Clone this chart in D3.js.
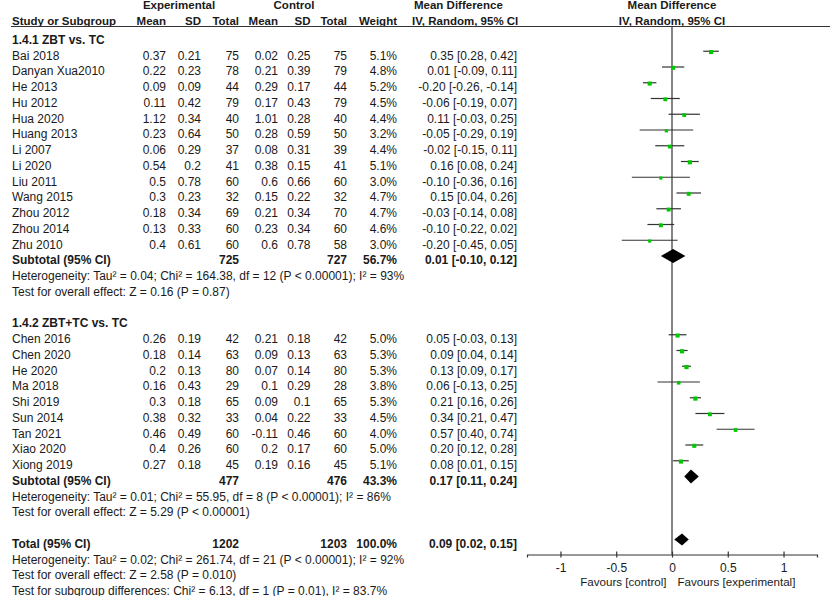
<!DOCTYPE html>
<html>
<head>
<meta charset="utf-8">
<script src="https://cdn.jsdelivr.net/npm/d3@7"></script>
<style>
  body { margin: 0; background: #fff; }
  svg text { font-family: "Liberation Sans", Arial, sans-serif; fill: #1a1a1a; }
</style>
</head>
<body>
<div id="chart"></div>
<script>
// 1.4.1 ZBT vs. TC
const studies1 = ['Bai 2018', 'Danyan Xua2010', 'He 2013', 'Hu 2012', 'Hua 2020', 'Huang 2013', 'Li 2007',
  'Li 2020', 'Liu 2011', 'Wang 2015', 'Zhou 2012', 'Zhou 2014', 'Zhu 2010'];
const expMean1 = [0.37, 0.22, 0.09, 0.11, 1.12, 0.23, 0.06, 0.54, 0.5, 0.3, 0.18, 0.13, 0.4];
const expSD1 = [0.21, 0.23, 0.09, 0.42, 0.34, 0.64, 0.29, 0.2, 0.78, 0.23, 0.34, 0.33, 0.61];
const expN1 = [75, 78, 44, 79, 40, 50, 37, 41, 60, 32, 69, 60, 60];
const ctlMean1 = [0.02, 0.21, 0.29, 0.17, 1.01, 0.28, 0.08, 0.38, 0.6, 0.15, 0.21, 0.23, 0.6];
const ctlSD1 = [0.25, 0.39, 0.17, 0.43, 0.28, 0.59, 0.31, 0.15, 0.66, 0.22, 0.34, 0.34, 0.78];
const ctlN1 = [75, 79, 44, 79, 40, 50, 39, 41, 60, 32, 70, 60, 58];
const weight1 = [5.1, 4.8, 5.2, 4.5, 4.4, 3.2, 4.4, 5.1, 3.0, 4.7, 4.7, 4.6, 3.0];
const md1 = [0.35, 0.01, -0.20, -0.06, 0.11, -0.05, -0.02, 0.16, -0.10, 0.15, -0.03, -0.10, -0.20];
const lo1 = [0.28, -0.09, -0.26, -0.19, -0.03, -0.29, -0.15, 0.08, -0.36, 0.04, -0.14, -0.22, -0.45];
const hi1 = [0.42, 0.11, -0.14, 0.07, 0.25, 0.19, 0.11, 0.24, 0.16, 0.26, 0.08, 0.02, 0.05];

// 1.4.2 ZBT+TC vs. TC
const studies2 = ['Chen 2016', 'Chen 2020', 'He 2020', 'Ma 2018', 'Shi 2019', 'Sun 2014', 'Tan 2021',
  'Xiao 2020', 'Xiong 2019'];
const expMean2 = [0.26, 0.18, 0.2, 0.16, 0.3, 0.38, 0.46, 0.4, 0.27];
const expSD2 = [0.19, 0.14, 0.13, 0.43, 0.18, 0.32, 0.49, 0.26, 0.18];
const expN2 = [42, 63, 80, 29, 65, 33, 60, 60, 45];
const ctlMean2 = [0.21, 0.09, 0.07, 0.1, 0.09, 0.04, -0.11, 0.2, 0.19];
const ctlSD2 = [0.18, 0.13, 0.14, 0.29, 0.1, 0.22, 0.46, 0.17, 0.16];
const ctlN2 = [42, 63, 80, 28, 65, 33, 60, 60, 45];
const weight2 = [5.0, 5.3, 5.3, 3.8, 5.3, 4.5, 4.0, 5.0, 5.1];
const md2 = [0.05, 0.09, 0.13, 0.06, 0.21, 0.34, 0.57, 0.20, 0.08];
const lo2 = [-0.03, 0.04, 0.09, -0.13, 0.16, 0.21, 0.40, 0.12, 0.01];
const hi2 = [0.13, 0.14, 0.17, 0.25, 0.26, 0.47, 0.74, 0.28, 0.15];

// pooled: [expTotal, ctlTotal, weight, md, lo, hi]
const subtotal1 = [725, 727, 56.7, 0.01, -0.10, 0.12];
const subtotal2 = [477, 476, 43.3, 0.17, 0.11, 0.24];
const overall = [1202, 1203, 100.0, 0.09, 0.02, 0.15];

const groupTitles = ['1.4.1 ZBT vs. TC', '1.4.2 ZBT+TC vs. TC'];
const notes1 = ['Heterogeneity: Tau² = 0.04; Chi² = 164.38, df = 12 (P < 0.00001); I² = 93%',
  'Test for overall effect: Z = 0.16 (P = 0.87)'];
const notes2 = ['Heterogeneity: Tau² = 0.01; Chi² = 55.95, df = 8 (P < 0.00001); I² = 86%',
  'Test for overall effect: Z = 5.29 (P < 0.00001)'];
const notesTotal = ['Heterogeneity: Tau² = 0.02; Chi² = 261.74, df = 21 (P < 0.00001); I² = 92%',
  'Test for overall effect: Z = 2.58 (P = 0.010)',
  'Test for subgroup differences: Chi² = 6.13, df = 1 (P = 0.01), I² = 83.7%'];

const xTicks = [-1, -0.5, 0, 0.5, 1];
const favours = ['Favours [control]', 'Favours [experimental]'];

const width = 830, height = 596;
const lineCol = '#333';
const markCol = '#00c800';

// build the row list
const rows = [];
function addGroup(title, names, em, es, en, cm, cs, cn, w, md, lo, hi, sub, notes) {
  rows.push({ type: 'title', label: title });
  names.forEach((n, i) => rows.push({
    type: 'study', label: n, cells: [em[i], es[i], en[i], cm[i], cs[i], cn[i]],
    w: w[i], md: md[i], lo: lo[i], hi: hi[i]
  }));
  rows.push({ type: 'pooled', label: 'Subtotal (95% CI)', cells: [null, null, sub[0], null, null, sub[1]],
    w: sub[2], md: sub[3], lo: sub[4], hi: sub[5] });
  notes.forEach(t => rows.push({ type: 'note', label: t }));
  rows.push({ type: 'blank' });
}
addGroup(groupTitles[0], studies1, expMean1, expSD1, expN1, ctlMean1, ctlSD1, ctlN1,
  weight1, md1, lo1, hi1, subtotal1, notes1);
addGroup(groupTitles[1], studies2, expMean2, expSD2, expN2, ctlMean2, ctlSD2, ctlN2,
  weight2, md2, lo2, hi2, subtotal2, notes2);
rows.push({ type: 'pooled', label: 'Total (95% CI)', cells: [null, null, overall[0], null, null, overall[1]],
  w: overall[2], md: overall[3], lo: overall[4], hi: overall[5], total: true });
notesTotal.forEach(t => rows.push({ type: 'note', label: t }));

// scales
const yScale = d3.scaleLinear().domain([0, rows.length - 1]).range([39.5, 590.75]);
const xScale = d3.scaleLinear().domain([-1.3, 1.3]).range([527, 817]);
const sizeScale = d3.scaleSqrt().domain([0, 5.3]).range([0, 4.2]);

const cellX = [166, 201, 239, 278, 310.5, 347];
const weightX = 397, mdX = 517;
const axisY = 554.5, headY = 26.5;

const svg = d3.select('#chart').append('svg')
  .attr('width', width)
  .attr('height', height);

// header
const head = svg.append('g').style('font-weight', 'bold').style('font-size', '11.5px');
head.append('text').attr('x', 179).attr('y', 9).attr('text-anchor', 'middle').text('Experimental');
head.append('text').attr('x', 294).attr('y', 9).attr('text-anchor', 'middle').text('Control');
head.append('text').attr('x', 414).attr('y', 9).text('Mean Difference');
head.append('text').attr('x', xScale(0)).attr('y', 9).attr('text-anchor', 'middle').text('Mean Difference');
head.append('text').attr('x', 12).attr('y', 24.5).text('Study or Subgroup');
['Mean', 'SD', 'Total', 'Mean', 'SD', 'Total'].forEach((t, i) => {
  head.append('text').attr('x', cellX[i]).attr('y', 24.5).attr('text-anchor', 'end').text(t);
});
head.append('text').attr('x', weightX).attr('y', 24.5).attr('text-anchor', 'end').text('Weight');
head.append('text').attr('x', 412).attr('y', 24.5).text('IV, Random, 95% CI');
head.append('text').attr('x', xScale(0)).attr('y', 24.5).attr('text-anchor', 'middle').text('IV, Random, 95% CI');

svg.append('line')
  .attr('x1', 11).attr('x2', width)
  .attr('y1', headY).attr('y2', headY)
  .attr('stroke', lineCol).attr('stroke-width', 1.2);

// zero line
svg.append('line')
  .attr('x1', xScale(0)).attr('x2', xScale(0))
  .attr('y1', headY).attr('y2', axisY)
  .attr('stroke', lineCol).attr('stroke-width', 1.2);

// table rows
const join = svg.selectAll('g.row')
  .data(rows.map((d, i) => ({ ...d, i })).filter(d => d.type !== 'blank'))
  .join('g')
  .attr('class', 'row')
  .attr('transform', d => `translate(0, ${yScale(d.i)})`)
  .style('font-size', '12px')
  .style('font-weight', d => (d.type === 'title' || d.type === 'pooled') ? 'bold' : 'normal');

join.append('text')
  .attr('x', 12)
  .attr('y', 4.3)
  .text(d => d.label);

const dataRows = join.filter(d => d.type === 'study' || d.type === 'pooled');

cellX.forEach((cx, k) => {
  dataRows.append('text')
    .attr('x', cx)
    .attr('y', 4.3)
    .attr('text-anchor', 'end')
    .text(d => d.cells[k] == null ? '' : String(d.cells[k]));
});

dataRows.append('text')
  .attr('x', weightX)
  .attr('y', 4.3)
  .attr('text-anchor', 'end')
  .text(d => d.w.toFixed(1) + '%');

dataRows.append('text')
  .attr('x', mdX)
  .attr('y', 4.3)
  .attr('text-anchor', 'end')
  .text(d => `${d.md.toFixed(2)} [${d.lo.toFixed(2)}, ${d.hi.toFixed(2)}]`);

// CI lines and squares
const studyRows = join.filter(d => d.type === 'study');
studyRows.append('line')
  .attr('x1', d => xScale(d.lo))
  .attr('x2', d => xScale(d.hi))
  .attr('y1', -4).attr('y2', -4)
  .attr('stroke', lineCol)
  .attr('stroke-width', 1.2);

studyRows.append('rect')
  .attr('x', d => xScale(d.md) - sizeScale(d.w) / 2)
  .attr('y', d => -3.2 - sizeScale(d.w) / 2)
  .attr('width', d => sizeScale(d.w))
  .attr('height', d => sizeScale(d.w))
  .attr('fill', markCol);

// diamonds
join.filter(d => d.type === 'pooled').append('path')
  .attr('fill', '#000')
  .attr('d', d => {
    const yc = -4, hh = d.total ? 6 : 7;
    return `M${xScale(d.lo)},${yc} L${xScale(d.md)},${yc - hh} L${xScale(d.hi)},${yc} L${xScale(d.md)},${yc + hh} Z`;
  });

// axis
const axis = svg.append('g')
  .attr('transform', `translate(0, ${axisY})`)
  .call(d3.axisBottom(xScale)
    .tickValues(xTicks)
    .tickFormat(d => String(d))
    .tickSizeOuter(0)
    .tickSize(3)
    .tickPadding(6));
axis.select('.domain').attr('stroke', lineCol).attr('stroke-width', 1.2);
axis.selectAll('.tick line').attr('y1', -3).attr('y2', 3).attr('stroke', lineCol).attr('stroke-width', 1.2);
axis.selectAll('.tick text')
  .style('font-family', '"Liberation Sans", Arial, sans-serif')
  .style('font-size', '12px')
  .attr('fill', '#1a1a1a');

svg.append('text')
  .attr('x', xScale(0) - 5.5).attr('y', 586)
  .attr('text-anchor', 'end')
  .style('font-size', '11.6px')
  .text(favours[0]);
svg.append('text')
  .attr('x', xScale(0) + 5.5).attr('y', 586)
  .style('font-size', '11.6px')
  .text(favours[1]);
</script>
</body>
</html>
